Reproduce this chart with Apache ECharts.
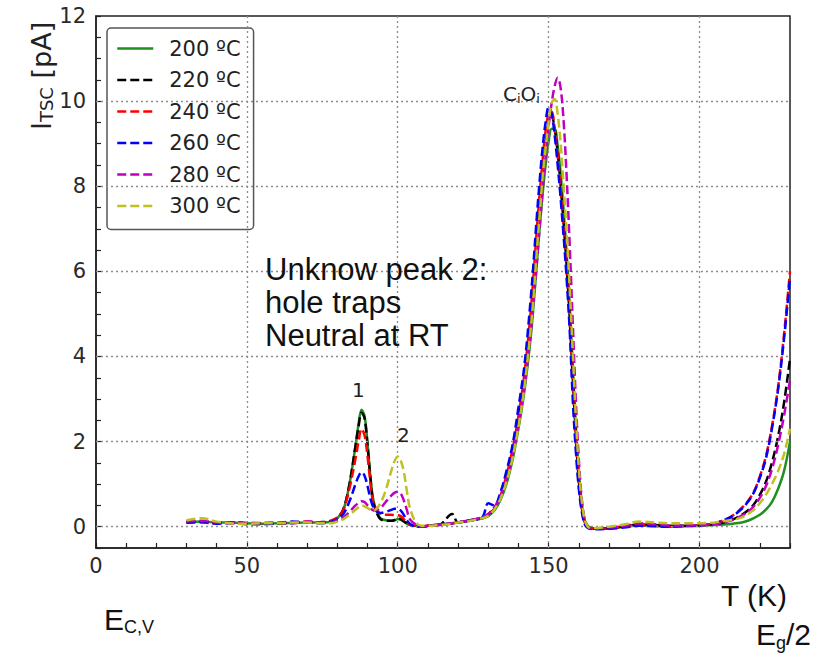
<!DOCTYPE html>
<html>
<head>
<meta charset="utf-8">
<script src="https://cdn.jsdelivr.net/npm/echarts@6/dist/echarts.min.js"></script>
<style>html,body{margin:0;padding:0;background:#fff}#c{width:826px;height:659px}</style>
</head>
<body>
<div id="c"></div>
<script>
// Temperature (K)
const T = [30,35,40,45,50,55,60,65,70,75,78,
 80,82,84,86,87,88,89,90,91,92,94,96,98,99,100,101,102,103,104,
 106,108,110,114,118,120,124,128,
 130,132,134,136,138,140,142,144,145,146,147,148,149,150,151,152,153,154,155,156,157,158,159,160,161,162,163,164,
 166,170,175,180,185,190,195,200,
 205,208,211,214,216,218,220,222,224,226,228,230];

const names = ['200 ºC','220 ºC','240 ºC','260 ºC','280 ºC','300 ºC'];

const I200 = [0.1,0.12,0.1,0.1,0.08,0.07,0.08,0.09,0.1,0.1,0.12,
 0.2,0.4,1.0,1.9,2.4,2.75,2.6,1.95,1.15,0.6,0.22,0.15,0.14,0.15,0.18,0.16,0.12,0.07,0.04,
 0.02,0.0,0.02,0.05,0.08,0.1,0.14,0.2,
 0.25,0.38,0.62,1.0,1.55,2.3,3.2,4.4,5.2,6.1,7.0,7.8,8.5,9.05,9.35,9.35,8.95,8.3,7.4,6.4,5.2,3.8,2.4,1.3,0.55,0.15,0.02,-0.03,
 -0.05,-0.04,0.0,0.03,0.02,0.0,0.01,0.02,
 0.04,0.05,0.07,0.1,0.14,0.2,0.28,0.4,0.58,0.88,1.3,2.0];
const I220 = [0.1,0.11,0.09,0.1,0.09,0.08,0.07,0.09,0.1,0.11,0.13,
 0.2,0.42,1.0,1.9,2.35,2.68,2.55,1.9,1.1,0.55,0.2,0.14,0.14,0.16,0.2,0.18,0.13,0.08,0.04,
 0.02,0.0,0.02,0.05,0.3,0.1,0.15,0.2,
 0.28,0.42,0.7,1.12,1.7,2.5,3.45,4.8,5.7,6.6,7.5,8.3,9.0,9.5,9.65,9.35,8.8,8.0,7.1,6.1,4.9,3.5,2.2,1.1,0.45,0.1,0.0,-0.04,
 -0.05,-0.03,0.0,0.05,0.04,0.02,0.02,0.03,
 0.06,0.1,0.17,0.28,0.38,0.52,0.75,1.05,1.5,2.1,2.9,3.95];
const I240 = [0.12,0.1,0.08,0.1,0.08,0.07,0.08,0.1,0.12,0.1,0.15,
 0.22,0.4,0.9,1.6,2.0,2.3,2.15,1.65,1.0,0.55,0.32,0.28,0.28,0.27,0.27,0.25,0.18,0.1,0.05,
 0.02,0.0,0.03,0.05,0.08,0.1,0.15,0.22,
 0.3,0.45,0.72,1.2,1.8,2.6,3.6,5.0,5.9,6.9,7.8,8.6,9.3,9.7,9.75,9.35,8.7,7.9,7.0,6.0,4.8,3.3,2.0,1.0,0.4,0.08,-0.02,-0.05,
 -0.05,-0.04,0.0,0.04,0.02,0.0,0.02,0.03,
 0.08,0.15,0.26,0.44,0.6,0.82,1.18,1.65,2.35,3.25,4.5,6.0];
const I260 = [0.1,0.12,0.07,0.09,0.06,0.06,0.08,0.12,0.1,0.08,0.12,
 0.18,0.3,0.6,1.0,1.18,1.28,1.2,0.95,0.65,0.45,0.32,0.35,0.4,0.42,0.42,0.38,0.28,0.15,0.07,
 0.0,0.0,0.02,0.05,0.08,0.1,0.15,0.22,
 0.55,0.5,0.8,1.3,1.9,2.8,3.8,5.3,6.2,7.2,8.1,8.9,9.5,9.85,9.7,9.2,8.5,7.7,6.8,5.8,4.6,3.0,1.8,0.9,0.35,0.05,-0.03,-0.05,
 -0.06,-0.05,-0.02,0.02,0.01,0.0,0.02,0.03,
 0.08,0.15,0.25,0.42,0.58,0.8,1.15,1.6,2.3,3.2,4.4,5.85];
const I280 = [0.12,0.14,0.1,0.08,0.08,0.09,0.1,0.08,0.12,0.1,0.1,
 0.15,0.22,0.35,0.5,0.56,0.6,0.58,0.5,0.43,0.38,0.42,0.58,0.74,0.8,0.82,0.78,0.62,0.4,0.18,
 0.05,0.0,0.02,0.04,0.08,0.1,0.15,0.22,
 0.3,0.45,0.7,1.1,1.65,2.4,3.3,4.5,5.3,6.1,7.0,7.9,8.7,9.4,9.95,10.35,10.55,10.3,9.5,8.2,6.6,4.8,3.0,1.6,0.65,0.15,0.0,-0.03,
 -0.04,-0.02,0.02,0.08,0.06,0.03,0.03,0.04,
 0.06,0.1,0.16,0.26,0.35,0.48,0.68,0.95,1.35,1.9,2.6,3.45];
const I300 = [0.15,0.2,0.12,0.08,0.07,0.08,0.08,0.1,0.1,0.08,0.08,
 0.12,0.18,0.28,0.4,0.46,0.5,0.48,0.44,0.4,0.38,0.52,0.85,1.35,1.55,1.65,1.55,1.3,0.85,0.45,
 0.1,0.02,0.02,0.04,0.07,0.1,0.14,0.2,
 0.26,0.4,0.65,1.05,1.6,2.35,3.3,4.6,5.4,6.4,7.3,8.2,8.9,9.5,9.95,10.05,9.7,9.0,8.0,6.9,5.6,4.1,2.6,1.4,0.6,0.15,0.0,-0.03,
 -0.03,0.0,0.05,0.12,0.1,0.08,0.08,0.08,
 0.1,0.13,0.16,0.22,0.3,0.4,0.55,0.75,1.0,1.3,1.7,2.3];

const yGrid = [0,2,4,6,8,10];
const xGrid = [50,100,150,200];

const values = [I200,I220,I240,I260,I280,I300];
const colors = ['#1f8f1f','#000000','#ff0000','#0000ff','#bf00bf','#c0c020'];
const dashed = [false,true,true,true,true,true];

const chart = echarts.init(document.getElementById('c'), null, {renderer:'svg'});
const TICKFONT = 'DejaVu Sans';
const ANNFONT = 'Liberation Sans';

const series = [{
  name: '_grid', type: 'line', data: [], z: 1, silent: true,
  markLine: {
    silent: true, symbol: 'none', label: {show: false},
    lineStyle: {type: [2,3], color: '#8c8c8c', width: 1.3},
    animation: false,
    data: yGrid.map(v => ({yAxis: v})).concat(xGrid.map(v => ({xAxis: v})))
  }
}];
values.forEach((arr, k) => {
  series.push({
    name: names[k], type: 'line', z: 2 + k,
    data: T.map((t, i) => [t, arr[i]]),
    showSymbol: false, symbol: 'none',
    smooth: 0.35,
    lineStyle: {color: colors[k], width: 2.5, type: dashed[k] ? [9,4] : 'solid'},
    itemStyle: {color: colors[k]},
    animation: false
  });
});

chart.setOption({
  animation: false,
  backgroundColor: '#fff',
  grid: {left: 96, right: 36, top: 16, bottom: 111, show: true, borderColor: '#222', borderWidth: 1.5, backgroundColor: 'transparent'},
  xAxis: {
    type: 'value', min: 0, max: 230, interval: 10,
    axisLine: {show: true, onZero: false, lineStyle: {color: '#222', width: 1.5}},
    axisTick: {show: true, inside: true, length: 5, lineStyle: {color: '#222', width: 1.2}},
    splitLine: {show: false},
    axisLabel: {
      margin: 7, fontFamily: TICKFONT, fontSize: 21, color: '#2a2a2a',
      formatter: v => (Math.abs(v % 50) < 1e-6 ? String(v) : '')
    }
  },
  yAxis: {
    type: 'value', min: -0.5, max: 12, interval: 0.5,
    axisLine: {show: true, lineStyle: {color: '#222', width: 1.5}},
    axisTick: {show: true, inside: true, length: 5, lineStyle: {color: '#222', width: 1.2}},
    splitLine: {show: false},
    axisLabel: {
      margin: 10, fontFamily: TICKFONT, fontSize: 21, color: '#2a2a2a',
      formatter: v => (v >= 0 && Math.abs(v % 2) < 1e-6 ? String(Math.round(v)) : '')
    }
  },
  legend: {
    data: names, orient: 'vertical', left: 107, top: 28,
    itemWidth: 36, itemHeight: 14, itemGap: 10.5,
    padding: [10, 13, 13, 9],
    backgroundColor: '#fff', borderColor: '#555', borderWidth: 1.5, borderRadius: 4,
    itemStyle: {opacity: 0},
    lineStyle: {width: 2.5},
    textStyle: {fontFamily: TICKFONT, fontSize: 21, color: '#222', lineHeight: 21, padding: [0,0,0,11]},
    selectedMode: false
  },
  series: series,
  graphic: [
    {type: 'text', left: 265, top: 253, z: 50, style: {text: 'Unknow peak 2:\nhole traps\nNeutral at RT', font: '31px "Liberation Sans"', lineHeight: 33, fill: '#111'}},
    {type: 'text', left: 352, top: 380, z: 50, style: {text: '1', font: '20px "DejaVu Sans"', fill: '#222'}},
    {type: 'text', left: 397, top: 425, z: 50, style: {text: '2', font: '20px "DejaVu Sans"', fill: '#222'}},
    {type: 'text', left: 503, top: 84, z: 50, style: {
      text: 'C{s|i}O{s|i}', fontFamily: TICKFONT, fontSize: 20, fill: '#222',
      rich: {s: {fontFamily: TICKFONT, fontSize: 13, fill: '#222', verticalAlign: 'bottom', padding: [8,0,0,0]}}
    }},
    {type: 'text', x: 27, y: 130, rotation: Math.PI/2, z: 50, style: {
      text: 'I{s|TSC} [pA]', fontFamily: TICKFONT, fontSize: 27, fill: '#222', verticalAlign: 'top', align: 'left',
      rich: {s: {fontFamily: TICKFONT, fontSize: 18, fill: '#222', padding: [10,0,0,0]}}
    }},
    {type: 'text', left: 721, top: 580, z: 50, style: {text: 'T (K)', font: '30px "Liberation Sans"', fill: '#111'}},
    {type: 'text', left: 104, top: 604, z: 50, style: {
      text: 'E{s|C,V}', fontFamily: ANNFONT, fontSize: 30, fill: '#111',
      rich: {s: {fontFamily: ANNFONT, fontSize: 18, fill: '#111', padding: [16,0,0,0]}}
    }},
    {type: 'text', left: 756, top: 619, z: 50, style: {
      text: 'E{s|g}/2', fontFamily: ANNFONT, fontSize: 30, fill: '#111',
      rich: {s: {fontFamily: ANNFONT, fontSize: 18, fill: '#111', padding: [18,0,0,0]}}
    }}
  ]
});
</script>
</body>
</html>
